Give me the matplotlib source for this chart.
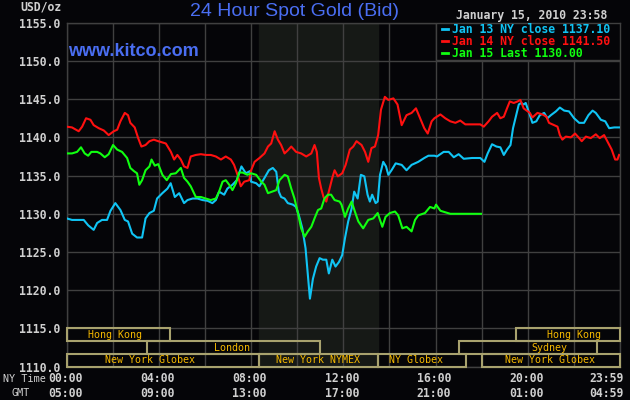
import matplotlib
matplotlib.use('Agg')
import matplotlib.pyplot as plt
from matplotlib.patches import Rectangle
from matplotlib.lines import Line2D

# ---------------------------------------------------------------
# data : hours since 00:00 NY time, bid price in USD/oz
jan13_hours = [0.0, 0.23, 0.52, 0.74, 0.93, 1.17, 1.32, 1.53, 1.75, 1.9, 2.11, 2.33, 2.52,
               2.66, 2.84, 3.05, 3.27, 3.42, 3.59, 3.78, 3.92, 4.15, 4.37, 4.51, 4.69, 4.88,
               5.09, 5.24, 5.46, 5.67, 5.89, 6.11, 6.32, 6.47, 6.61, 6.83, 6.97, 7.19, 7.38,
               7.58, 7.77, 7.96, 8.0, 8.22, 8.36, 8.58, 8.77, 8.94, 9.09, 9.2, 9.3, 9.45,
               9.59, 9.81, 9.95, 10.07, 10.22, 10.36, 10.46, 10.55, 10.68, 10.82, 10.97,
               11.11, 11.26, 11.37, 11.52, 11.66, 11.81, 11.95, 12.07, 12.21, 12.36, 12.47,
               12.62, 12.76, 12.91, 13.05, 13.15, 13.25, 13.4, 13.49, 13.59, 13.73, 13.85,
               13.95, 14.09, 14.27, 14.53, 14.74, 14.96, 15.25, 15.51, 15.69, 15.95, 16.06,
               16.35, 16.57, 16.79, 17.0, 17.22, 17.58, 17.94, 18.12, 18.26, 18.45, 18.64,
               18.81, 18.96, 19.1, 19.25, 19.36, 19.48, 19.61, 19.71, 19.82, 19.91, 20.06,
               20.2, 20.37, 20.52, 20.71, 20.85, 21.0, 21.22, 21.39, 21.58, 21.79, 22.01,
               22.23, 22.44, 22.63, 22.81, 22.95, 23.17, 23.36, 23.53, 23.75, 23.96]
jan13_bid = [1129.4, 1129.2, 1129.2, 1129.2, 1128.5, 1127.9, 1128.8, 1129.2, 1129.2, 1130.4,
             1131.4, 1130.5, 1129.2, 1129.0, 1127.4, 1126.9, 1126.9, 1129.4, 1130.1, 1130.4,
             1132.0, 1132.7, 1133.3, 1134.0, 1132.2, 1132.7, 1131.4, 1131.8, 1132.0, 1132.0,
             1131.8, 1131.7, 1131.4, 1131.8, 1132.9, 1132.5, 1133.3, 1133.8, 1134.4, 1136.2,
             1135.3, 1135.6, 1134.2, 1134.0, 1133.6, 1134.7, 1135.7, 1136.0, 1135.5, 1132.9,
             1132.2, 1132.0, 1131.4, 1131.2, 1130.9, 1129.8, 1128.1, 1125.5, 1122.0, 1118.9,
             1121.5, 1123.1, 1124.2, 1124.0, 1124.0, 1122.2, 1124.0, 1123.1, 1123.7, 1124.6,
             1126.8, 1129.0, 1130.7, 1132.9, 1132.0, 1135.1, 1134.9, 1132.5, 1131.6, 1132.5,
             1131.4, 1131.6, 1135.1, 1136.8, 1136.2, 1135.1, 1135.7, 1136.6, 1136.4, 1135.7,
             1136.4, 1136.8, 1137.3, 1137.6, 1137.6, 1137.5, 1138.1, 1138.1, 1137.4, 1137.8,
             1137.2, 1137.3, 1137.3, 1136.8, 1137.9, 1139.1, 1138.8, 1138.7, 1137.7, 1138.4,
             1139.0, 1141.2, 1142.7, 1144.3, 1144.5, 1144.3, 1144.5, 1143.2, 1141.9, 1142.1,
             1142.9, 1143.2, 1142.5, 1142.9, 1143.4, 1143.9, 1143.5, 1143.4, 1142.5, 1141.9,
             1141.9, 1142.9, 1143.5, 1143.2, 1142.3, 1142.1, 1141.2, 1141.3, 1141.3]

jan14_hours = [0.0, 0.23, 0.52, 0.67, 0.84, 1.03, 1.17, 1.39, 1.61, 1.82, 2.04, 2.19, 2.33,
               2.52, 2.66, 2.76, 2.95, 3.1, 3.24, 3.42, 3.59, 3.78, 3.97, 4.3, 4.52, 4.66,
               4.8, 4.95, 5.09, 5.24, 5.38, 5.6, 5.82, 6.03, 6.25, 6.47, 6.69, 6.9, 7.12,
               7.26, 7.41, 7.55, 7.7, 7.92, 8.0, 8.15, 8.36, 8.58, 8.73, 8.87, 9.02, 9.16,
               9.3, 9.45, 9.59, 9.74, 9.95, 10.17, 10.39, 10.61, 10.75, 10.85, 10.94, 11.04,
               11.14, 11.26, 11.4, 11.52, 11.62, 11.76, 11.95, 12.1, 12.28, 12.43, 12.57,
               12.79, 12.94, 13.08, 13.22, 13.37, 13.51, 13.63, 13.8, 13.95, 14.17, 14.35,
               14.53, 14.74, 14.96, 15.15, 15.33, 15.51, 15.66, 15.83, 15.95, 16.21, 16.42,
               16.64, 16.86, 17.07, 17.29, 17.58, 17.94, 18.09, 18.3, 18.45, 18.67, 18.81,
               18.96, 19.1, 19.22, 19.39, 19.56, 19.68, 19.82, 19.91, 20.09, 20.2, 20.42,
               20.64, 20.81, 20.92, 21.14, 21.29, 21.39, 21.5, 21.65, 21.87, 22.05, 22.23,
               22.34, 22.52, 22.73, 22.95, 23.12, 23.31, 23.5, 23.64, 23.79, 23.89, 23.96]
jan14_bid = [1141.4, 1141.3, 1140.8, 1141.4, 1142.5, 1142.3, 1141.6, 1141.2, 1140.9, 1140.3,
             1140.8, 1141.0, 1142.1, 1143.2, 1142.9, 1141.9, 1141.3, 1139.9, 1138.8, 1139.0,
             1139.5, 1139.7, 1139.5, 1139.2, 1138.1, 1137.1, 1137.7, 1137.1, 1136.2, 1136.0,
             1137.5, 1137.7, 1137.8, 1137.7, 1137.7, 1137.5, 1137.1, 1137.5, 1137.1, 1136.4,
             1135.1, 1133.6, 1134.2, 1134.4, 1135.7, 1136.8, 1137.3, 1137.9, 1138.8, 1139.2,
             1140.8, 1139.7, 1139.0, 1137.9, 1138.3, 1138.8, 1138.1, 1137.9, 1137.5, 1137.9,
             1139.0, 1138.1, 1134.7, 1133.3, 1132.2, 1131.6, 1133.3, 1134.7, 1135.7, 1134.9,
             1135.3, 1136.4, 1138.4, 1138.8, 1139.5, 1139.0, 1138.1, 1136.8, 1138.6, 1138.8,
             1140.3, 1143.6, 1145.3, 1144.9, 1145.1, 1144.3, 1141.6, 1142.9, 1143.2, 1143.8,
             1142.5, 1141.2, 1140.5, 1142.1, 1142.5, 1143.0, 1142.5, 1142.1, 1141.9, 1142.2,
             1141.7, 1141.7, 1141.7, 1141.4, 1142.1, 1142.7, 1143.2, 1142.5, 1142.7, 1143.8,
             1144.7, 1144.5, 1144.7, 1144.9, 1143.8, 1143.6, 1143.2, 1142.6, 1143.2, 1143.0,
             1142.7, 1141.9, 1141.6, 1141.4, 1140.3, 1139.7, 1140.1, 1140.0, 1140.5, 1139.9,
             1139.5, 1140.1, 1139.9, 1140.4, 1139.9, 1140.3, 1139.2, 1138.4, 1137.1, 1137.1,
             1137.7]

jan15_hours = [0.0, 0.23, 0.45, 0.62, 0.78, 0.93, 1.07, 1.32, 1.46, 1.65, 1.82, 2.01, 2.19,
               2.4, 2.62, 2.76, 2.91, 3.05, 3.15, 3.27, 3.42, 3.59, 3.68, 3.82, 3.97, 4.15,
               4.34, 4.52, 4.73, 4.95, 5.09, 5.24, 5.38, 5.6, 5.82, 6.03, 6.25, 6.47, 6.61,
               6.76, 6.9, 7.05, 7.19, 7.34, 7.48, 7.63, 7.84, 8.0, 8.22, 8.44, 8.58, 8.73,
               8.91, 9.09, 9.23, 9.45, 9.59, 9.74, 9.88, 10.03, 10.17, 10.32, 10.46, 10.61,
               10.75, 10.9, 11.04, 11.18, 11.33, 11.47, 11.62, 11.84, 11.92, 12.07, 12.21,
               12.36, 12.5, 12.65, 12.86, 13.08, 13.3, 13.49, 13.59, 13.69, 13.83, 14.02,
               14.24, 14.38, 14.56, 14.74, 14.96, 15.11, 15.25, 15.54, 15.76, 15.95, 16.02,
               16.21, 16.42, 16.64, 17.97]
jan15_bid = [1137.9, 1137.9, 1138.1, 1138.7, 1137.9, 1137.6, 1138.1, 1138.1, 1137.9, 1137.4,
             1137.8, 1139.0, 1138.4, 1138.1, 1137.3, 1136.0, 1135.6, 1135.3, 1133.8, 1134.4,
             1135.7, 1136.2, 1137.1, 1136.3, 1136.5, 1135.1, 1134.4, 1135.2, 1135.3, 1136.0,
             1134.7, 1134.2, 1133.6, 1132.2, 1132.2, 1132.0, 1131.8, 1132.0, 1132.9, 1134.2,
             1134.4, 1133.8, 1133.1, 1134.0, 1135.4, 1135.4, 1135.1, 1135.3, 1135.1, 1134.2,
             1133.8, 1132.7, 1132.9, 1133.1, 1134.4, 1135.1, 1134.9, 1133.3, 1132.0, 1130.1,
             1128.1, 1127.0, 1127.7, 1128.3, 1129.4, 1130.5, 1130.7, 1132.0, 1132.5, 1132.5,
             1131.8, 1131.6, 1131.2, 1129.6, 1130.7, 1131.6, 1130.3, 1129.0, 1128.1, 1129.2,
             1129.4, 1130.1, 1129.2, 1128.3, 1129.6, 1130.1, 1130.3, 1129.8, 1128.1, 1128.3,
             1127.7, 1129.2, 1129.8, 1130.1, 1130.9, 1130.7, 1131.2, 1130.4, 1130.2, 1130.0,
             1130.0]

legend_labels = ['Jan 13 NY close 1137.10', 'Jan 14 NY close 1141.50', 'Jan 15 Last 1130.00']

y_ticks = [1110, 1115, 1120, 1125, 1130, 1135, 1140, 1145, 1150, 1155]
ny_time_labels = ['00:00', '04:00', '08:00', '12:00', '16:00', '20:00', '23:59']
gmt_labels = ['05:00', '09:00', '13:00', '17:00', '21:00', '01:00', '04:59']
label_hours = [0, 4, 8, 12, 16, 20, 23.5]

# market sessions (row 0 = top strip)
session_names = ['Hong Kong', 'Hong Kong', 'London', 'Sydney', 'New York Globex',
                 'New York NYMEX', 'NY Globex', 'New York Globex']
session_start = [0.0, 19.5, 3.5, 17.0, 0.0, 8.33, 13.5, 18.0]
session_end = [4.5, 24.0, 11.0, 23.0, 8.33, 13.5, 17.33, 24.0]
session_row = [0, 0, 1, 1, 2, 2, 2, 2]
session_text_at = [2.1, 22.0, 7.15, 20.95, 3.6, 10.9, 15.15, 20.95]

nymex_open, nymex_close = 8.33, 13.5

# ---------------------------------------------------------------
BG = '#050508'
GRID = '#404040'
TXT = '#d0d0d0'
BLUE = '#4a6ef2'
MONO = 'DejaVu Sans Mono'
colors = ['#10c4f4', '#ff1010', '#10ff10']

fig = plt.figure(figsize=(6.3, 4.0), dpi=100, facecolor=BG)
ax = fig.add_axes([66.7 / 630, 1 - 366.7 / 400, 553.3 / 630, 344.0 / 400])
ax.set_facecolor(BG)
ax.set_xlim(0, 24)
ax.set_ylim(1110, 1155)

ax.axvspan(nymex_open, nymex_close, color='#161916', zorder=0)

ax.set_yticks(y_ticks)
ax.set_yticklabels(['%.1f' % v for v in y_ticks], family=MONO, weight='bold',
                   fontsize=8.3, color=TXT)
ax.set_xticks(range(0, 25, 2))
ax.set_xticklabels([])
ax.tick_params(length=0, pad=5)
ax.grid(True, color=GRID, lw=1.0, zorder=1)
ax.set_axisbelow(True)
for s in ax.spines.values():
    s.set_color(GRID)
    s.set_linewidth(1.0)

# session strips
row_top = [1115.0, 1113.333, 1111.667]
row_h = 5.0 / 3
for name, a, b, r, tx in zip(session_names, session_start, session_end, session_row,
                             session_text_at):
    y0 = row_top[r] - row_h
    ax.add_patch(Rectangle((a, y0), b - a, row_h, fill=False, edgecolor='#a8a26e',
                           lw=1.5, zorder=3, clip_on=False))
    ax.text(tx, y0 + row_h / 2, name, color='#f5b800', family=MONO, fontsize=7.2,
            ha='center', va='center', zorder=4)

ax.plot(jan13_hours, jan13_bid, color=colors[0], lw=1.5, zorder=5)
ax.plot(jan14_hours, jan14_bid, color=colors[1], lw=1.5, zorder=5)
ax.plot(jan15_hours, jan15_bid, color=colors[2], lw=1.5, zorder=5)

# legend block top right
ax.add_patch(Rectangle((16, 1150.15), 8, 4.85, facecolor=BG, edgecolor=GRID, lw=1.0,
                       zorder=6))
for i, (lab, c) in enumerate(zip(legend_labels, colors)):
    yy = 1 - (29.3 + 12 * i) / 400
    fig.add_artist(Line2D([442 / 630, 448 / 630], [yy, yy], color=c, lw=2))
    fig.text(451.5 / 630, yy, lab, color=c, family=MONO, weight='bold', fontsize=8.3,
             ha='left', va='center')

# bottom time rows
xt = ax.get_xaxis_transform()
for h, a, g in zip(label_hours, ny_time_labels, gmt_labels):
    ax.text(h - 0.07, -0.034, a, transform=xt, family=MONO, weight='bold', fontsize=8.3,
            color=TXT, ha='center', va='center')
    ax.text(h - 0.07, -0.078, g, transform=xt, family=MONO, weight='bold', fontsize=8.3,
            color=TXT, ha='center', va='center')
fig.text(24 / 630, 1 - 378.5 / 400, 'NY Time', family=MONO, fontsize=7.3, color=TXT,
         ha='center', va='center')
fig.text(20.5 / 630, 1 - 393.3 / 400, 'GMT', family=MONO, fontsize=7.3, color=TXT,
         ha='center', va='center')

# header texts
fig.text(294.5 / 630, 1 - 11 / 400, '24 Hour Spot Gold (Bid)', color=BLUE,
         family='Liberation Sans', fontsize=14, ha='center', va='center')
fig.text(68.3 / 630, 1 - 55.5 / 400, 'www.kitco.com', color=BLUE,
         family='Liberation Sans', weight='bold', fontsize=13, ha='left', va='baseline')
fig.text(41 / 630, 1 - 7.5 / 400, 'USD/oz', color=TXT, family=MONO, weight='bold',
         fontsize=8.3, ha='center', va='center')
fig.text(531.5 / 630, 1 - 15 / 400, 'January 15, 2010 23:58', color=TXT, family=MONO,
         weight='bold', fontsize=8.3, ha='center', va='center')

fig.savefig('out.png', dpi=100, facecolor=BG)
